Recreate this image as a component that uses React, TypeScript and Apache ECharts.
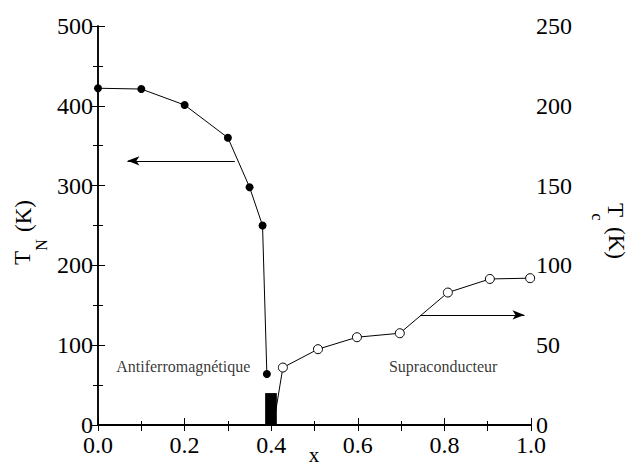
import React, { useEffect, useRef } from "react";
import * as echarts from "echarts";

const tnX = [0.0, 0.1, 0.2, 0.3, 0.35, 0.38, 0.39];
const tnVal = [422, 421, 401, 360, 298, 250, 64];
const tcX = [0.41, 0.427, 0.508, 0.598, 0.697, 0.808, 0.905, 0.998];
const tcVal = [8, 36, 47.5, 55, 57.5, 83, 91.5, 92];
const xTicks = [0, 0.2, 0.4, 0.6, 0.8, 1.0];
const barRange = { x0: 0.386, x1: 0.413, top: 40 };
const leftArrow = { from: [0.316, 331], to: [0.068, 331] };
const rightArrow = { from: [0.744, 69], to: [0.985, 69] };
const phaseLabels = [
  { text: "Antiferromagnétique", x: 0.042, y: 73 },
  { text: "Supraconducteur", x: 0.672, y: 73 },
];

const FONT = "Liberation Serif";

export default function App() {
  const ref = useRef<HTMLDivElement>(null);
  useEffect(() => {
    document.body.style.margin = "0";
    if (!ref.current) return;
    const chart = echarts.init(ref.current, null, { renderer: "svg" });
    const axisLine = { show: true, lineStyle: { color: "#000", width: 1.5 } };
    const gText = (text: string, x: number, y: number, size: number, rot: number) => ({
      type: "text",
      x,
      y,
      rotation: rot,
      style: {
        text,
        fill: "#000",
        font: `${size}px '${FONT}'`,
        align: "center",
        verticalAlign: "middle",
      },
    });
    chart.setOption({
      animation: false,
      backgroundColor: "#fff",
      grid: { left: 98, right: 96, top: 26, bottom: 41 },
      xAxis: [
        {
          type: "value",
          min: 0,
          max: 1,
          interval: 0.2,
          position: "bottom",
          axisLine: { show: true, lineStyle: { color: "#000", width: 2 } },
          axisTick: { show: true, inside: true, length: 7, lineStyle: { color: "#000" } },
          minorTick: { show: true, splitNumber: 2, length: 4, lineStyle: { color: "#000" } },
          splitLine: { show: false },
          axisLabel: {
            color: "#000",
            fontFamily: FONT,
            fontSize: 24,
            margin: 8,
            formatter: (v: number) => (xTicks.some((t) => Math.abs(t - v) < 1e-6) ? v.toFixed(1) : ""),
          },
        },
        {
          type: "value",
          min: 0,
          max: 1,
          interval: 0.1,
          position: "top",
          axisLine,
          axisTick: { show: true, inside: true, length: 6, lineStyle: { color: "#000" } },
          axisLabel: { show: false },
          splitLine: { show: false },
        },
      ],
      yAxis: [
        {
          type: "value",
          min: 0,
          max: 500,
          interval: 100,
          position: "left",
          axisLine,
          axisTick: { show: true, inside: true, length: 7, lineStyle: { color: "#000" } },
          minorTick: { show: true, splitNumber: 2, length: 5, lineStyle: { color: "#000" } },
          splitLine: { show: false },
          axisLabel: { color: "#000", fontFamily: FONT, fontSize: 24, lineHeight: 16, margin: 5 },
        },
        {
          type: "value",
          min: 0,
          max: 250,
          interval: 50,
          position: "right",
          axisLine,
          axisTick: { show: true, inside: true, length: 7, lineStyle: { color: "#000" } },
          minorTick: { show: true, splitNumber: 2, length: 5, lineStyle: { color: "#000" } },
          splitLine: { show: false },
          axisLabel: { color: "#000", fontFamily: FONT, fontSize: 24, lineHeight: 16, margin: 5 },
        },
      ],
      series: [
        {
          type: "line",
          xAxisIndex: 0,
          yAxisIndex: 0,
          data: tnX.map((x, i) => [x, tnVal[i]]),
          symbol: "circle",
          symbolSize: 8,
          itemStyle: { color: "#000" },
          lineStyle: { color: "#000", width: 1 },
          z: 3,
          markLine: {
            silent: true,
            symbol: ["none", "arrow"],
            symbolSize: [7, 12],
            label: { show: false },
            lineStyle: { color: "#000", width: 1, type: "solid" },
            data: [[{ coord: leftArrow.from }, { coord: leftArrow.to }]],
          },
          markArea: {
            silent: true,
            itemStyle: { color: "#000" },
            data: [[{ coord: [barRange.x0, 0] }, { coord: [barRange.x1, barRange.top] }]],
          },
        },
        {
          type: "line",
          xAxisIndex: 0,
          yAxisIndex: 1,
          data: tcX.map((x, i) =>
            i === 0 ? { value: [x, tcVal[i]], symbol: "none" } : [x, tcVal[i]]
          ),
          symbol: "circle",
          symbolSize: 9,
          itemStyle: { color: "#fff", borderColor: "#000", borderWidth: 1 },
          lineStyle: { color: "#000", width: 1 },
          z: 2,
          markLine: {
            silent: true,
            symbol: ["none", "arrow"],
            symbolSize: [7, 12],
            label: { show: false },
            lineStyle: { color: "#000", width: 1, type: "solid" },
            data: [[{ coord: rightArrow.from }, { coord: rightArrow.to }]],
          },
        },
        {
          type: "scatter",
          xAxisIndex: 0,
          yAxisIndex: 0,
          symbolSize: 0,
          silent: true,
          data: phaseLabels.map((p) => ({
            value: [p.x, p.y],
            label: {
              show: true,
              position: "right",
              distance: 0,
              formatter: p.text,
              color: "#000",
              fontFamily: FONT,
              fontSize: 16,
            },
          })),
        },
      ],
      graphic: [
        gText("T", 22, 258, 23, Math.PI / 2),
        gText("N", 41, 245, 16, Math.PI / 2),
        gText("(K)", 23, 216, 23, Math.PI / 2),
        gText("T", 615, 210, 23, -Math.PI / 2),
        gText("c", 597, 217, 16, -Math.PI / 2),
        gText("(K)", 616, 243, 23, -Math.PI / 2),
        gText("x", 314, 455, 21, 0),
      ],
    });
    return () => chart.dispose();
  }, []);
  return <div ref={ref} style={{ width: 627, height: 466 }} />;
}
